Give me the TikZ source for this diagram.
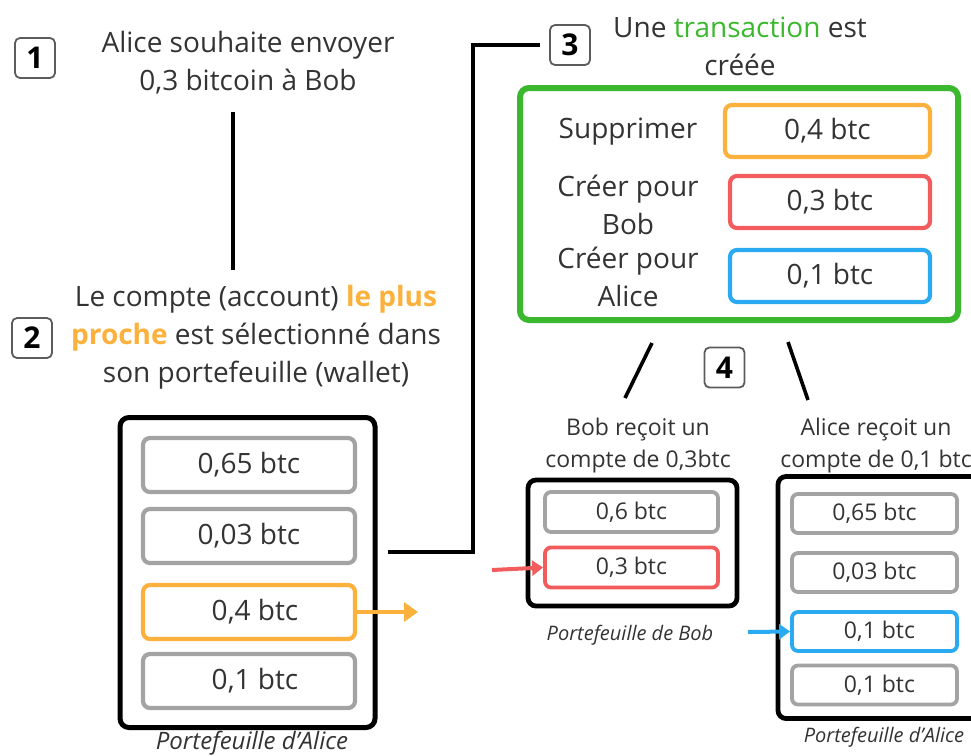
\documentclass[tikz,border=0pt]{standalone}
\usepackage{fontspec}
\setmainfont{Open Sans}
\usetikzlibrary{arrows.meta}
\definecolor{txt}{HTML}{333333}
\definecolor{org}{HTML}{FBB13C}
\definecolor{rd}{HTML}{F25C5C}
\definecolor{bl}{HTML}{2AAAF0}
\definecolor{gr}{HTML}{3BB82E}
\definecolor{gy}{HTML}{A3A3A3}
\tikzset{
  numbox/.style={draw=txt!80, line width=1.8pt, rounded corners=5pt, minimum width=40pt, minimum height=40pt, inner sep=0pt, font=\fontsize{30}{32}\selectfont\bfseries, text=black},
  bigtext/.style={align=center, text=txt, inner sep=0pt, font=\fontsize{28}{38}\selectfont},
  smalltext/.style={align=center, text=txt, inner sep=0pt, font=\fontsize{23}{32}\selectfont},
  captext/.style={text=txt, inner sep=0pt, font=\fontsize{20}{22}\selectfont\itshape},
  wallet/.style={draw=black, line width=5pt, rounded corners=9pt, inner sep=0pt},
  coin/.style={draw=gy, line width=4.2pt, rounded corners=7pt, inner sep=0pt, text=txt, font=\fontsize{28}{30}\selectfont},
  scoin/.style={draw=gy, line width=3.8pt, rounded corners=6pt, inner sep=0pt, text=txt, font=\fontsize{23}{26}\selectfont},
  conn/.style={draw=black, line width=3.6pt},
}
\begin{document}
\begin{tikzpicture}[x=1pt,y=-1pt]
\useasboundingbox (0,0) rectangle (971,755);
% step 1
\node[numbox] (n1) at (35,58) {1};
\node[bigtext] (t1) at (248,63) {Alice souhaite envoyer\\0,3 bitcoin à Bob};
\coordinate (v1) at (233,112);
\coordinate (v2) at (233,270);
\draw[conn] (v1) -- (v2);
% step 2
\node[numbox] (n2) at (32,338) {2};
\node[bigtext] (t2) at (256,337) {Le compte (account) \textcolor{org}{\bfseries le plus}\\\textcolor{org}{\bfseries proche} est sélectionné dans\\son portefeuille (wallet)};
% Alice wallet
\node[wallet, minimum width=255pt, minimum height=310pt] (wa) at (247.5,572.5) {};
\node[coin, minimum width=212pt, minimum height=54pt] (a1) at (249,465) {0,65 btc};
\node[coin, minimum width=212pt, minimum height=54pt] (a2) at (249,536) {0,03 btc};
\node[coin, draw=org, minimum width=212pt, minimum height=54pt] (a3) at (249,612) {\hspace{12pt}0,4 btc};
\node[coin, minimum width=212pt, minimum height=54pt] (a4) at (249,681) {\hspace{12pt}0,1 btc};
\node[captext, font=\fontsize{24}{26}\selectfont\itshape] (ca) at (252,743) {Portefeuille d'Alice};
\coordinate (oa) at (418,612);
\draw[org, line width=4.5pt, -{Triangle[length=14pt,width=19pt]}] (a3.east) -- (oa);
% connector to step 3
\coordinate (c1) at (388,552);
\node[numbox] (n3) at (570,45) {3};
\coordinate (c2) at (540,45);
\draw[conn] (c1) -- (473,552) |- (c2);
\node[bigtext] (t3) at (740,46) {Une \textcolor{gr}{transaction} est\\créée};
% transaction box
\node[draw=gr, line width=6pt, rounded corners=9pt, minimum width=438pt, minimum height=232pt, inner sep=0pt] (tx) at (739,204) {};
\node[bigtext] (l1) at (628,132) {Supprimer};
\node[bigtext] (l2) at (628,205) {Créer pour\\Bob};
\node[bigtext] (l3) at (628,277) {Créer pour\\Alice};
\node[coin, draw=org, minimum width=205pt, minimum height=52pt] (b1) at (827.5,131) {0,4 btc};
\node[coin, draw=rd, minimum width=200pt, minimum height=52pt] (b2) at (830,202) {0,3 btc};
\node[coin, draw=bl, minimum width=200pt, minimum height=52pt] (b3) at (830,276) {0,1 btc};
% step 4
\coordinate (s1) at (652,343);
\coordinate (s2) at (625,398);
\coordinate (s3) at (788,342);
\coordinate (s4) at (808,400);
\draw[conn] (s1) -- (s2);
\draw[conn] (s3) -- (s4);
\node[numbox] (n4) at (724.5,367.5) {4};
\node[smalltext] (t4) at (638,446) {Bob reçoit un\\compte de 0,3btc};
\node[smalltext] (t5) at (876,446) {Alice reçoit un\\compte de 0,1 btc};
% Bob wallet
\node[wallet, line width=4.8pt, rounded corners=8pt, minimum width=209pt, minimum height=126pt] (wb) at (632.5,543) {};
\node[scoin, minimum width=173pt, minimum height=40pt] (bb1) at (631.5,512) {0,6 btc};
\node[scoin, draw=rd, minimum width=173pt, minimum height=40pt] (bb2) at (631.5,567.5) {0,3 btc};
\node[captext] (cb) at (630,635) {Portefeuille de Bob};
\coordinate (rb) at (492,570);
\draw[rd, line width=4pt, -{Triangle[length=11pt,width=15pt]}] (rb) -- (bb2.west);
% Alice wallet 2
\begin{scope}
\clip (0,0) rectangle (971,755);
\node[wallet, line width=4.8pt, rounded corners=8pt, minimum width=215pt, minimum height=242pt] (wc) at (885.5,597.5) {};
\end{scope}
\node[scoin, minimum width=165pt, minimum height=39pt] (ac1) at (874.5,513.5) {0,65 btc};
\node[scoin, minimum width=165pt, minimum height=39pt] (ac2) at (874.5,572.5) {0,03 btc};
\node[scoin, draw=bl, minimum width=165pt, minimum height=39pt] (ac3) at (874.5,631.5) {\hspace{10pt}0,1 btc};
\node[scoin, minimum width=165pt, minimum height=39pt] (ac4) at (874.5,685) {\hspace{10pt}0,1 btc};
\node[captext] (cc) at (884,737) {Portefeuille d'Alice};
\coordinate (ra) at (748,632);
\draw[bl, line width=4pt, -{Triangle[length=11pt,width=15pt]}] (ra) -- (ac3.west);
\end{tikzpicture}
\end{document}
